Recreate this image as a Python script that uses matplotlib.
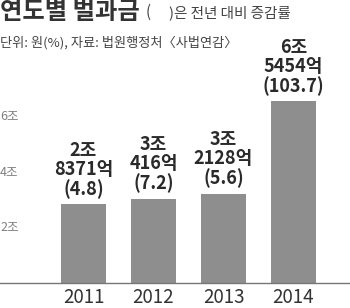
import matplotlib
matplotlib.use('Agg')
import matplotlib.pyplot as plt

plt.rcParams['font.family'] = ['Noto Sans CJK KR', 'DejaVu Sans']

years = ['2011', '2012', '2013', '2014']
values = [2.8371, 3.0416, 3.2128, 6.5454]   # 조 원
amount_labels = ['2조\n8371억', '3조\n416억', '3조\n2128억', '6조\n5454억']
growth = ['4.8', '7.2', '5.6', '103.7']
yticks = [2, 4, 6]
ytick_labels = ['2조', '4조', '6조']

fig = plt.figure(figsize=(3.5, 3.08), dpi=100)
ax = fig.add_axes([0, 25 / 308, 1, 283 / 308])

x = range(len(years))
ax.bar(x, values, width=0.643, color='#8e8e8e', zorder=2)
ax.set_xlim(-83.5 / 70, (350 - 83.5) / 70)
ax.set_ylim(0, 283 / 27.75)

for sp in ['top', 'right', 'left']:
    ax.spines[sp].set_visible(False)
ax.spines['bottom'].set_color('#777777')
ax.spines['bottom'].set_linewidth(1.0)
ax.set_yticks([])
ax.set_xticks(list(x))
ax.set_xticklabels(years, fontsize=13.5, color='#333333')
ax.tick_params(axis='x', length=0, pad=3)

for v, lab in zip(yticks, ytick_labels):
    ax.text(0.0, v, lab, transform=ax.get_yaxis_transform(), ha='left',
            va='center', fontsize=9, color='#808080')

for i, (v, a, g) in enumerate(zip(values, amount_labels, growth)):
    ax.annotate(a + '\n(' + g + ')', (i, v), xytext=(0, 4),
                textcoords='offset points', ha='center', va='bottom',
                fontsize=13, fontweight='bold', color='#2a2a2a',
                linespacing=1.0)

fig.text(0.0, 1 - 19 / 308, '연도별 벌과금', fontsize=17.5, fontweight='bold',
         color='#333333', ha='left', va='baseline')
fig.text(146 / 350, 1 - 17 / 308, '(', fontsize=11, color='#444444',
         ha='left', va='baseline')
fig.text(169 / 350, 1 - 17 / 308, ')은 전년 대비 증감률', fontsize=10.5,
         color='#444444', ha='left', va='baseline')
fig.text(0.0, 1 - 47 / 308, '단위: 원(%), 자료: 법원행정처〈사법연감〉',
         fontsize=9.5, color='#444444', ha='left', va='baseline')

fig.savefig('out.png', dpi=100)
